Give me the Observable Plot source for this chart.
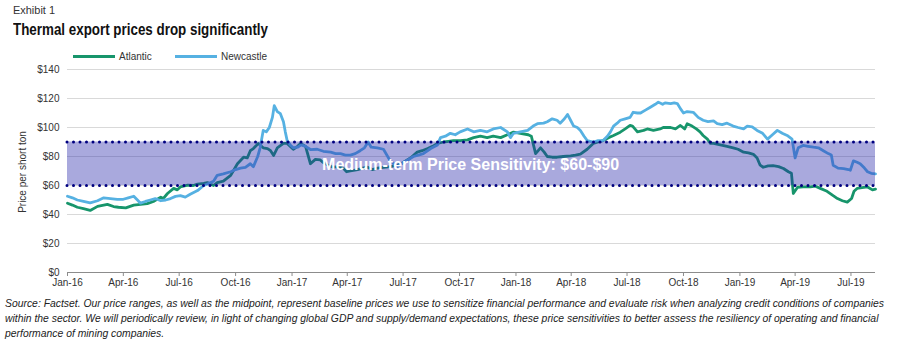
<!DOCTYPE html>
<html>
<head>
<meta charset="utf-8">
<script src="https://cdn.jsdelivr.net/npm/d3@7"></script>
<script src="https://cdn.jsdelivr.net/npm/@observablehq/plot@0.6"></script>
<style>
  html, body { margin: 0; padding: 0; background: #fff; }
  body { width: 900px; height: 348px; position: relative; overflow: hidden; }
  .abs { position: absolute; white-space: nowrap; }
  #exhibit { left: 13px; top: 4px; font: 11px "Liberation Sans", sans-serif; color: #333; transform-origin: 0 0; }
  #title { left: 13px; top: 21px; font: bold 16px "Liberation Sans", sans-serif; color: #111; transform-origin: 0 0; }
  #legend { left: 73px; top: 50px; font: 10px "Liberation Sans", Arial, sans-serif; color: #333; }
  .lg { position: absolute; top: 0; display: flex; align-items: center; height: 13px; }
  .sw { display: inline-block; width: 42px; height: 3px; margin-right: 4px; }
  #ylabel { left: 22px; top: 172px; font: 10px "Liberation Sans", Arial, sans-serif; color: #333; transform: translate(-50%, -50%) rotate(-90deg); }
  #chart { left: 0; top: 60px; }
  #caption { left: 5px; top: 296px; font: italic 11.5px/15px "Liberation Sans", sans-serif; color: #222; transform-origin: 0 0; }
  #caption div { display: block; }
</style>
</head>
<body>
<div id="exhibit" class="abs"></div>
<div id="title" class="abs"></div>
<div id="legend" class="abs"></div>
<div id="ylabel" class="abs"></div>
<div id="chart" class="abs"></div>
<div id="caption" class="abs"></div>
<script>
// ---- Text ----
const exhibitText = "Exhibit 1";
const titleText = "Thermal export prices drop significantly";
const yLabelText = "Price per short ton";
const seriesNames = ["Atlantic", "Newcastle"];
const seriesColors = ["#17956b", "#56b1e2"];
const bandLabel = "Medium-term Price Sensitivity: $60-$90";
const bandLabelDate = "2017-10-19";
const bandLabelValue = 74;
const bandRange = [60, 90];
const captionLines = [
  "Source: Factset. Our price ranges, as well as the midpoint, represent baseline prices we use to sensitize financial performance and evaluate risk when analyzing credit conditions of companies",
  "within the sector. We will periodically review, in light of changing global GDP and supply/demand expectations, these price sensitivities to better assess the resiliency of operating and financial",
  "performance of mining companies."
];

// ---- Axes ----
const yTicks = [0, 20, 40, 60, 80, 100, 120, 140];
const xTickDates = ["2016-01-01","2016-04-01","2016-07-01","2016-10-01","2017-01-01","2017-04-01","2017-07-01","2017-10-01","2018-01-01","2018-04-01","2018-07-01","2018-10-01","2019-01-01","2019-04-01","2019-07-01"];
const xDomain = ["2016-01-01", "2019-08-10"];

// ---- Series: Atlantic ----
const atlanticDates = ["2016-01-01","2016-01-09","2016-01-17","2016-01-27","2016-02-07","2016-02-19","2016-02-29","2016-03-06","2016-03-16","2016-03-24","2016-04-05","2016-04-18","2016-04-29","2016-05-10","2016-05-20","2016-06-01","2016-06-05","2016-06-12","2016-06-22","2016-06-28","2016-07-03","2016-07-15","2016-07-24","2016-07-31","2016-08-10","2016-08-16","2016-08-26","2016-09-01","2016-09-11","2016-09-23","2016-10-04","2016-10-14","2016-10-20","2016-10-25","2016-10-30","2016-11-07","2016-11-15","2016-11-22","2016-11-27","2016-12-02","2016-12-08","2016-12-18","2016-12-24","2017-01-03","2017-01-10","2017-01-15","2017-01-23","2017-01-31","2017-02-08","2017-02-16","2017-02-21","2017-03-01","2017-03-09","2017-03-18","2017-03-26","2017-03-31","2017-04-06","2017-04-18","2017-04-26","2017-05-04","2017-05-12","2017-05-20","2017-05-30","2017-06-10","2017-06-22","2017-07-02","2017-07-13","2017-07-24","2017-08-01","2017-08-10","2017-08-18","2017-08-26","2017-09-05","2017-09-13","2017-09-21","2017-10-02","2017-10-14","2017-10-24","2017-11-04","2017-11-15","2017-11-25","2017-12-07","2017-12-18","2017-12-28","2018-01-08","2018-01-21","2018-01-26","2018-02-02","2018-02-10","2018-02-16","2018-02-21","2018-03-01","2018-03-09","2018-03-19","2018-03-31","2018-04-08","2018-04-16","2018-04-27","2018-05-07","2018-05-15","2018-05-23","2018-06-01","2018-06-09","2018-06-20","2018-06-28","2018-07-06","2018-07-10","2018-07-18","2018-07-28","2018-08-03","2018-08-13","2018-08-24","2018-08-29","2018-09-10","2018-09-18","2018-09-26","2018-10-03","2018-10-07","2018-10-15","2018-10-22","2018-10-28","2018-11-02","2018-11-09","2018-11-14","2018-11-19","2018-11-30","2018-12-11","2018-12-21","2018-12-29","2019-01-07","2019-01-15","2019-01-23","2019-01-29","2019-02-03","2019-02-08","2019-02-16","2019-02-24","2019-03-05","2019-03-13","2019-03-21","2019-03-26","2019-03-29","2019-04-05","2019-04-14","2019-04-26","2019-05-04","2019-05-12","2019-05-23","2019-06-02","2019-06-09","2019-06-17","2019-06-25","2019-07-02","2019-07-06","2019-07-11","2019-07-19","2019-07-28","2019-08-05","2019-08-10"];
const atlanticValues = [47.8,46.5,45,44,42.8,45.6,46.5,47,45.5,45,44.6,46.5,47,47.5,49,52,51,54.5,58,57,59,60.3,60,61,61.5,62,60,62,63,67,75,79.5,79,84,85.5,89,86,85.5,84,80.7,86,89,89,85,87,89,87,75,78,77.6,75.8,74,72.6,73,71.7,69.5,70,71,72,72.6,71,72,72.5,73,74,76,79,83,84,85.5,87,89,90,90.5,91,91,91.5,93,94,93,94,93,95,96.8,96,95,94,82,86,83,80,79.5,79.5,80,80.5,81,81.6,85,89,90,91,93,94.5,96.8,99,101.4,101,97,98,99,98,99,100,100,99,101.4,99,102.6,101,99,97,94.5,92,89,89,88,87,86,85,83,82.5,81.5,79,74,72.6,73.5,73.7,73,71.7,69.5,68.4,54.5,58.8,59,59,59.5,58,56,53,51,49.5,48.5,51,56,58,58.5,59,57,57.5];

// ---- Series: Newcastle ----
const newcastleDates = ["2016-01-01","2016-01-09","2016-01-17","2016-01-27","2016-02-07","2016-02-19","2016-02-29","2016-03-11","2016-03-22","2016-04-01","2016-04-09","2016-04-18","2016-04-24","2016-04-29","2016-05-07","2016-05-15","2016-05-23","2016-06-01","2016-06-09","2016-06-17","2016-06-25","2016-07-03","2016-07-11","2016-07-19","2016-07-31","2016-08-10","2016-08-16","2016-08-26","2016-09-01","2016-09-11","2016-09-23","2016-10-01","2016-10-09","2016-10-17","2016-10-25","2016-10-30","2016-11-06","2016-11-10","2016-11-15","2016-11-20","2016-11-25","2016-11-30","2016-12-03","2016-12-08","2016-12-13","2016-12-18","2016-12-21","2016-12-24","2016-12-29","2017-01-03","2017-01-10","2017-01-16","2017-01-23","2017-01-31","2017-02-11","2017-02-21","2017-03-05","2017-03-13","2017-03-21","2017-03-29","2017-04-06","2017-04-14","2017-04-22","2017-04-29","2017-05-05","2017-05-10","2017-05-20","2017-05-30","2017-06-10","2017-06-22","2017-07-02","2017-07-10","2017-07-18","2017-07-26","2017-08-03","2017-08-15","2017-08-26","2017-08-31","2017-09-08","2017-09-16","2017-09-24","2017-10-02","2017-10-14","2017-10-24","2017-11-04","2017-11-15","2017-11-25","2017-12-07","2017-12-18","2017-12-23","2017-12-28","2018-01-08","2018-01-20","2018-01-29","2018-02-05","2018-02-15","2018-02-21","2018-03-01","2018-03-09","2018-03-14","2018-03-21","2018-03-26","2018-03-31","2018-04-05","2018-04-11","2018-04-16","2018-04-22","2018-04-27","2018-05-07","2018-05-15","2018-05-23","2018-05-30","2018-06-04","2018-06-09","2018-06-15","2018-06-20","2018-06-28","2018-07-06","2018-07-11","2018-07-18","2018-07-23","2018-07-31","2018-08-08","2018-08-16","2018-08-21","2018-08-28","2018-09-01","2018-09-10","2018-09-16","2018-09-21","2018-09-26","2018-10-01","2018-10-07","2018-10-17","2018-10-25","2018-11-02","2018-11-10","2018-11-19","2018-11-25","2018-12-03","2018-12-11","2018-12-21","2018-12-29","2019-01-07","2019-01-13","2019-01-21","2019-01-29","2019-02-07","2019-02-15","2019-02-23","2019-03-03","2019-03-11","2019-03-19","2019-03-27","2019-04-01","2019-04-06","2019-04-14","2019-04-22","2019-05-01","2019-05-09","2019-05-17","2019-05-25","2019-05-30","2019-06-02","2019-06-10","2019-06-19","2019-06-27","2019-06-30","2019-07-05","2019-07-11","2019-07-16","2019-07-23","2019-07-28","2019-08-03","2019-08-10"];
const newcastleValues = [52.6,51.5,50,49,48,49.5,51.5,51,50.5,50.5,51.5,52.6,50,47.8,49,50,51,49.5,50,51,52.5,53,52,54,56.5,60,61,63,67,68,69.5,71,72,72.5,75,73,80,86,98,97,100,107,115,111,109.5,104,97,91,88,86,86.4,88,87,84.8,85,83.6,83,82,82,81,81,82,84,86,90,86.4,86,85,77,73,76,78,80,81,82,85.5,88,93,94,96,95,97,99,97,98,97,99,100,97,93,96,97,98,101,102.6,103,104,106,105,103,106,109,105,101,100,98,94,91,90,91,91,94,97,101,103,105,106,107,110.5,110,110,112,114,116,117.5,116,117,116.5,117,116.5,113,110,111,110.5,107,105,104,104.5,102.6,102,103,101,100,99,101,100.5,98,96,92,95,98,96,94.5,92,79,86,87.6,87,86.4,86,84,82,81,74,72,71.7,71,70.5,77,76,75,72,69.5,68.4,68];

// ---- Build tables ----
const parse = d3.utcParse("%Y-%m-%d");
const atlantic = atlanticDates.map((d, i) => ({date: parse(d), value: atlanticValues[i]}));
const newcastle = newcastleDates.map((d, i) => ({date: parse(d), value: newcastleValues[i]}));
const xd = xDomain.map(parse);

// ---- Header, legend, caption ----
function fitWidth(el, target) {
  const w = el.getBoundingClientRect().width;
  if (w > 0) el.style.transform = "scaleX(" + (target / w) + ")";
}
const exEl = document.getElementById("exhibit");
exEl.textContent = exhibitText;
const tEl = document.getElementById("title");
tEl.textContent = titleText;
document.getElementById("ylabel").textContent = yLabelText;
const legend = document.getElementById("legend");
const legendLeft = [0, 102];
seriesNames.forEach((name, i) => {
  const item = document.createElement("div");
  item.className = "lg";
  item.style.left = legendLeft[i] + "px";
  const sw = document.createElement("span");
  sw.className = "sw";
  sw.style.background = seriesColors[i];
  const t = document.createElement("span");
  t.textContent = name;
  item.appendChild(sw); item.appendChild(t);
  legend.appendChild(item);
});
const cap = document.getElementById("caption");
captionLines.forEach((line) => {
  const div = document.createElement("div");
  div.textContent = line;
  cap.appendChild(div);
});
fitWidth(exEl, 42);
fitWidth(tEl, 255);
fitWidth(cap, 879);

// ---- Chart ----
const chart = Plot.plot({
  width: 900,
  height: 235,
  marginLeft: 67,
  marginRight: 25,
  marginTop: 9,
  marginBottom: 23,
  style: {fontFamily: "'Liberation Sans', Arial, sans-serif", fontSize: "10px", color: "#333", background: "transparent"},
  x: {type: "utc", domain: xd},
  y: {domain: [0, 140]},
  marks: [
    Plot.gridY(yTicks, {stroke: "#d9d9d9", strokeOpacity: 1}),
    Plot.axisY(yTicks, {tickSize: 0, tickPadding: 8, tickFormat: d => "$" + d, label: null}),
    Plot.ruleY([0], {stroke: "#8c8c8c"}),
    Plot.axisX(xTickDates.map(parse), {tickSize: 4, tickPadding: 2, tickFormat: d3.utcFormat("%b-%y"), label: null, stroke: "#8c8c8c"}),
    Plot.lineY(atlantic, {x: "date", y: "value", stroke: seriesColors[0], strokeWidth: 2.8}),
    Plot.lineY(newcastle, {x: "date", y: "value", stroke: seriesColors[1], strokeWidth: 2.8}),
    Plot.rect([{lo: bandRange[0], hi: bandRange[1]}], {x1: () => xd[0], x2: () => xd[1], y1: "lo", y2: "hi", fill: "#2828aa", fillOpacity: 0.4}),
    Plot.ruleY(bandRange, {stroke: "#000080", strokeWidth: 3, strokeDasharray: "0,6.5", strokeLinecap: "round"}),
    Plot.text([bandLabel], {x: () => parse(bandLabelDate), y: () => bandLabelValue, text: d => d, fill: "white", fontWeight: "bold", fontSize: 16, fontFamily: "'Liberation Sans', Arial, sans-serif"})
  ]
});
document.getElementById("chart").appendChild(chart);
</script>
</body>
</html>
